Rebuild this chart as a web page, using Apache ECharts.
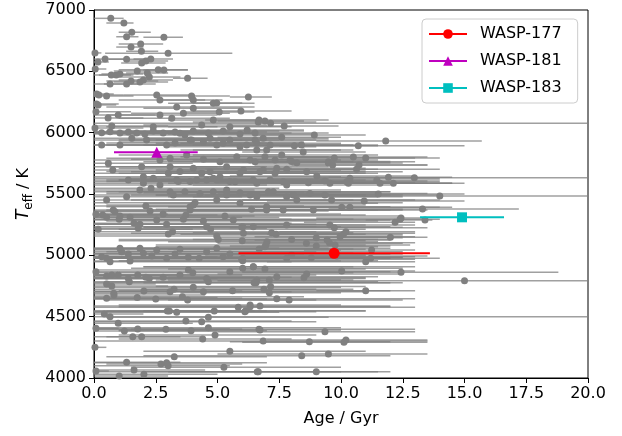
<!DOCTYPE html>
<html><head><meta charset="utf-8">
<script src="https://cdn.jsdelivr.net/npm/echarts@6/dist/echarts.min.js"></script>
<style>html,body{margin:0;padding:0;background:#fff}#c{width:622px;height:436px}</style>
</head><body><div id="c"></div>
<script>
// Sample stars: age (Gyr), Teff (K), age error bar ends (Gyr)
const ages=[
0.68,1.21,1.53,1.32,2.83,1.89,1.50,1.92,3.00,0.45,
0.16,0.04,1.32,1.93,2.10,2.30,2.60,2.83,1.75,3.79,
2.16,2.24,1.05,0.90,0.70,0.65,1.32,1.50,1.86,2.00,
0.11,0.51,0.20,6.25,5.95,6.68,0.17,2.54,2.67,3.95,
4.02,3.35,0.57,0.98,0.72,4.83,5.07,4.97,6.92,7.15,
7.70,6.20,8.92,11.81,10.70,7.60,8.40,8.47,9.73,10.50,
11.00,9.49,10.73,11.92,12.97,11.45,11.58,12.12,14.00,13.30,
13.40,12.43,12.43,15.00,12.19,12.39,7.80,9.55,9.73,10.20,
10.10,6.02,6.45,7.19,7.37,9.96,12.00,9.00,8.00,6.00,
7.00,6.96,8.60,9.44,9.53,9.76,9.00,6.69,6.92,11.24,
9.83,11.20,11.00,6.02,6.02,7.80,8.80,8.00,6.45,6.92,
10.03,8.61,8.50,7.40,6.59,6.48,7.10,7.15,6.88,7.10,
11.00,7.40,7.90,6.32,6.72,6.11,6.72,9.35,6.85,8.72,
10.20,10.12,8.41,9.49,6.61,9.00,0.42,0.65,0.98,0.08,
1.23,1.77,1.93,1.57,2.91,2.97,3.05,3.35,3.72,3.93,
4.36,4.40,4.63,4.63,4.90,4.87,0.04,3.25,1.32,1.62,
1.02,2.02,2.71,2.94,3.00,5.26,5.50,6.65,0.08,0.51,
0.72,0.51,0.81,0.80,1.75,2.02,2.50,3.08,3.24,3.58,
3.79,4.02,4.43,5.61,5.84,6.14,6.32,6.68,0.08,0.51,
0.72,0.98,1.39,1.43,1.77,2.10,2.24,2.80,3.48,3.82,
4.00,4.56,4.63,5.50,6.02,6.45,6.56,0.31,0.65,1.05,
1.39,1.73,2.06,2.40,2.80,3.28,3.68,4.02,4.63,5.23,
5.91,6.52,0.31,1.05,1.53,2.13,2.94,3.28,3.89,4.43,
4.97,5.50,6.18,0.58,0.76,1.39,2.00,2.00,1.93,2.67,
3.01,3.08,3.41,3.48,3.89,4.16,4.36,4.56,4.83,5.10,
5.50,5.91,6.45,1.86,2.31,2.67,3.21,3.68,4.29,4.83,
5.37,5.91,6.59,0.08,0.35,0.51,0.17,0.78,0.85,1.05,
1.02,1.46,1.62,1.79,1.86,2.10,2.27,2.54,2.80,2.94,
3.01,3.18,3.62,3.72,3.89,4.02,4.09,4.43,4.56,4.72,
4.97,5.03,5.30,5.64,5.98,6.05,6.38,0.31,0.51,0.65,
1.05,1.12,1.39,1.46,1.86,2.00,2.34,2.54,2.94,3.28,
3.48,3.82,4.26,4.56,4.97,5.23,5.50,5.98,0.51,1.32,
4.83,2.67,3.15,3.62,4.02,4.36,5.50,3.48,2.40,3.95,
4.70,5.23,5.91,6.59,6.99,3.08,3.75,4.43,5.10,5.78,
6.32,7.60,7.94,4.02,4.70,5.37,6.05,6.72,7.40,2.40,
3.35,4.97,5.71,7.13,7.80,3.08,5.37,6.32,7.26,8.07,
4.97,5.91,6.99,3.89,6.65,6.52,6.85,7.13,6.59,6.92,
6.52,6.85,7.33,7.80,8.61,9.49,8.11,7.33,8.00,8.21,
9.66,10.63,9.02,10.36,10.30,9.55,9.35,8.68,7.66,6.59,
11.51,10.94,10.03,10.36,8.88,7.66,6.99,7.80,8.21,8.74,
9.35,7.06,6.59,9.62,10.23,0.05,0.10,0.08,0.04];
const teffs=[
6932,6894,6818,6782,6777,6723,6698,6663,6647,6600,
6576,6650,6598,6568,6584,6600,6513,6511,6503,6443,
6486,6454,6478,6470,6470,6397,6397,6421,6413,6429,
6315,6299,6307,6291,6177,6103,6226,6307,6266,6299,
6266,6209,6120,6144,6054,6103,6169,6242,6095,6076,
6054,6022,5981,5932,5894,5962,5900,5842,5793,5801,
5793,5753,5736,5636,5633,5614,5587,5587,5484,5378,
5288,5304,4862,4793,5269,5294,5247,5247,5225,5193,
5171,5233,5233,5185,5171,5152,5147,5144,5130,5119,
5111,5084,5098,5125,5103,5084,5076,5052,5070,5044,
4995,4976,4948,4976,4956,4976,4981,5003,4907,4889,
4872,4848,4818,4826,4799,4777,4799,4745,4723,4695,
4712,4647,4636,4595,4587,4541,4391,4377,4302,4296,
4310,4291,4182,4196,4051,4051,4522,4500,4446,4405,
4383,4399,4337,4337,4397,4546,4546,4535,4465,4386,
4459,4318,4410,4495,4350,4546,4250,4174,4128,4065,
4016,4030,4114,4125,4100,4087,4218,4051,4057,4766,
4750,4650,4677,4690,4656,4709,4644,4704,4723,4663,
4636,4739,4704,4712,4576,4549,4581,4397,4866,4832,
4840,4840,4812,4785,4840,4821,4812,4821,4840,4880,
4859,4812,4785,4867,4894,4907,4777,6000,6008,5997,
6005,5997,5989,6014,5997,6005,5981,6014,5997,6014,
5989,5997,5899,5899,5954,5940,5899,5916,5940,5924,
5899,5940,5899,5750,5696,5614,5587,5641,5723,5777,
5669,5723,5601,5683,5601,5614,5669,5614,5628,5641,
5601,5669,5614,5533,5546,5573,5492,5519,5505,5519,
5492,5510,5492,5334,5329,5310,5212,5370,5356,5321,
5294,5310,5261,5220,5253,5402,5361,5288,5337,5253,
5174,5193,5294,5329,5370,5410,5429,5280,5233,5212,
5158,5130,5321,5288,5228,5180,5375,4989,4976,4948,
5057,5030,5011,4954,5057,5016,4995,5044,4976,5011,
5049,4984,4976,5030,5057,4989,5011,4968,5451,5478,
6239,6144,6117,6158,6199,6063,6049,5995,6049,5940,
5954,5913,5886,5913,5859,5791,5818,5783,5763,5804,
5777,5818,5777,5709,5682,5723,5696,5682,5709,5628,
5614,5614,5600,5614,5573,5519,5533,5492,5519,5492,
5451,5424,5396,5396,6087,5940,5954,5899,5859,5804,
5763,5696,5669,5701,5682,5763,5894,5777,5764,5755,
5736,5701,5647,5628,5587,5587,5606,5592,5600,5587,
5500,5443,5392,5392,5370,5370,5370,5478,5451,5505,
5492,5519,5478,5451,5600,6519,6234,6171,6038];
const ageLow=[
0.0,0.5,1.0,0.9,2.0,1.0,0.9,1.3,0.45,0.0,
0.0,0.0,0.6,1.1,1.4,1.6,1.0,2.0,0.8,3.2,
1.3,1.0,0.3,0.2,0.0,0.0,0.4,0.5,0.8,1.0,
0.0,0.0,0.0,5.5,4.0,4.5,0.0,1.2,1.0,2.5,
2.8,0.5,0.0,0.0,0.0,3.0,3.5,4.0,5.0,0.0,
5.5,4.0,6.5,9.0,7.5,5.0,5.5,6.0,7.0,7.5,
8.0,6.5,8.0,9.5,9.0,8.5,8.0,9.0,8.0,9.5,
11.0,9.0,6.0,5.0,8.5,9.0,4.5,6.0,5.5,7.5,
7.0,2.0,3.5,4.0,3.5,6.5,9.0,5.0,4.0,1.0,
3.0,2.5,5.0,6.5,6.0,7.0,5.5,3.0,2.5,8.5,
6.0,8.0,7.0,0.0,1.0,4.0,5.5,4.5,2.0,3.0,
6.0,5.0,4.5,3.0,2.5,0.0,3.0,2.5,2.0,3.5,
9.0,0.0,3.0,1.0,0.0,0.0,1.0,5.0,0.0,5.5,
7.0,6.0,2.0,5.0,3.0,0.0,0.0,0.0,0.0,0.0,
0.0,0.0,0.5,0.0,0.0,0.0,0.5,0.0,0.0,1.0,
0.0,1.0,0.0,0.5,1.0,0.0,0.0,0.5,0.0,0.0,
0.0,0.0,0.5,0.0,0.0,1.5,2.0,2.0,0.0,0.0,
0.0,0.0,0.0,0.0,0.0,0.0,0.0,0.0,0.0,0.0,
0.5,0.0,0.0,1.0,0.0,2.0,1.0,1.5,0.0,0.0,
0.0,0.0,0.0,0.0,0.0,0.0,0.0,0.0,0.0,0.0,
0.0,0.0,0.5,1.0,1.5,2.0,2.0,0.0,0.0,0.0,
0.0,0.0,0.0,0.5,0.5,1.0,1.0,1.5,2.0,2.5,
3.0,3.5,0.0,0.0,0.0,0.0,0.5,0.5,1.0,1.0,
2.0,2.5,3.0,0.0,0.0,0.0,0.0,0.0,0.0,0.0,
0.0,0.5,0.0,0.5,0.5,1.0,1.0,1.0,1.5,2.0,
2.0,2.5,3.0,0.0,0.0,0.0,0.0,0.5,0.5,1.0,
1.5,2.0,2.5,0.0,0.0,0.0,0.0,0.0,0.0,0.0,
0.0,0.0,0.0,0.0,0.0,0.0,0.0,0.0,0.0,0.0,
0.0,0.0,0.0,0.0,0.5,0.5,0.0,0.5,0.0,1.0,
0.0,1.0,1.0,1.5,2.0,1.5,2.5,0.0,0.0,0.0,
0.0,0.0,0.0,0.0,0.0,0.0,0.0,0.0,0.0,0.0,
0.0,0.0,0.0,0.5,1.0,0.5,1.0,1.5,0.0,0.0,
3.0,0.5,1.0,1.5,2.0,2.0,3.0,1.0,0.5,1.5,
2.0,2.5,3.0,3.5,4.0,0.5,1.0,1.5,2.0,2.5,
3.0,4.0,4.5,1.0,1.5,2.0,2.5,3.0,4.0,0.0,
0.5,1.5,2.0,3.5,4.0,0.0,2.0,2.5,3.5,4.5,
1.5,2.0,3.0,0.5,4.0,3.5,4.0,4.0,3.5,3.5,
3.0,3.5,4.0,4.5,5.0,6.0,5.0,4.0,4.5,5.0,
6.5,7.5,5.5,7.0,6.5,6.0,5.5,5.0,4.0,3.0,
8.0,7.0,6.5,7.0,5.0,4.0,3.0,4.0,4.5,5.0,
5.5,3.5,3.0,6.0,7.0,0.0,0.0,0.0,0.0];
const ageHigh=[
1.2,1.6,2.3,1.8,3.6,2.8,2.0,2.6,5.6,1.2,
0.6,0.3,2.0,2.9,3.0,3.2,3.8,3.8,2.7,4.6,
3.0,3.5,2.0,1.6,1.5,1.8,2.5,2.6,3.0,3.2,
0.8,1.6,1.2,7.2,8.0,9.5,0.9,4.0,4.5,5.5,
5.2,6.5,2.0,2.5,3.0,6.8,6.5,6.0,8.5,20,
9.9,8.5,11.0,15.7,15.0,10.0,11.5,11.0,13.0,13.5,
14.0,12.5,13.5,14.5,20,14.0,15.0,14.5,20,17.2,
13.7,13.5,18.8,20,13.0,14.0,11.0,13.0,13.5,13.0,
12.5,10.0,9.0,10.5,11.0,13.0,13.5,12.5,12.0,11.0,
11.5,11.0,12.5,12.0,13.0,12.8,12.0,10.5,11.5,13.0,
13.5,14.0,13.0,12.0,11.5,11.5,12.5,11.0,10.5,11.0,
13.0,12.5,11.0,11.5,10.0,12.0,10.5,11.0,10.5,10.0,
13.0,13.0,12.5,10.0,12.0,9.0,10.0,13.0,13.5,12.0,
13.5,13.5,12.0,13.5,10.0,12.0,2.0,20,4.0,1.0,
5.0,5.5,4.5,3.5,6.0,6.5,7.0,7.5,8.0,7.0,
9.0,8.0,10.0,9.5,9.0,11.0,0.5,7.0,3.5,4.5,
3.0,5.0,6.0,7.0,5.5,10.0,11.0,11.5,0.6,2.5,
3.0,6.0,4.5,3.0,5.0,6.0,7.0,8.0,9.0,8.5,
9.0,10.0,11.0,12.0,13.0,11.0,12.0,13.0,1.0,3.0,
3.5,4.0,5.0,4.5,6.0,6.5,7.0,8.0,9.0,10.0,
10.5,11.0,11.5,12.0,12.5,13.0,12.5,3.0,4.0,4.5,
5.0,5.5,6.0,5.5,6.5,7.0,7.5,7.5,8.0,8.5,
9.0,9.5,3.5,5.0,5.5,6.0,6.5,7.0,7.5,8.5,
8.5,9.0,10.0,4.0,4.5,5.5,6.0,6.5,5.0,6.5,
7.0,7.0,8.0,7.5,8.5,8.5,9.0,9.5,9.5,10.0,
10.5,11.0,11.0,6.5,7.5,7.0,8.0,8.5,9.5,10.0,
11.0,11.5,12.0,3.0,5.0,6.0,4.0,5.5,7.0,6.5,
8.0,7.5,8.0,7.0,9.0,8.5,9.5,9.0,10.0,9.5,
10.5,9.0,10.5,11.0,11.5,11.0,12.5,11.5,12.0,11.0,
12.5,11.5,12.5,12.0,12.5,13.0,12.5,5.0,6.5,8.0,
7.5,9.0,8.5,10.0,9.5,10.5,11.0,10.0,11.5,12.0,
11.0,12.5,12.0,12.5,12.0,13.0,12.5,13.0,4.5,6.0,
6.5,5.0,5.5,5.5,6.0,7.0,8.0,6.5,5.0,7.0,
7.5,8.5,9.0,10.0,10.5,7.0,7.5,8.0,9.0,9.5,
10.0,11.5,11.5,8.0,8.5,9.5,10.0,11.0,11.0,6.5,
7.5,9.5,10.5,11.5,12.0,8.0,10.0,11.0,12.0,12.5,
10.5,11.5,12.0,10.0,9.0,9.5,9.5,10.5,10.0,10.5,
10.5,11.0,11.5,11.5,12.5,13.0,11.5,11.0,12.0,12.0,
13.5,14.0,13.0,14.0,14.5,13.5,13.5,13.0,12.0,11.0,
15.0,15.0,14.0,14.5,13.5,12.5,12.0,12.5,13.0,13.5,
14.0,12.0,11.5,14.0,14.0,0.5,1.0,1.5,2.0];

// Highlighted planets' host stars
const waspNames=['WASP-177','WASP-181','WASP-183'];
const waspAge=[9.72,2.54,14.9];
const waspTeff=[5017,5840,5310];
const waspAgeLow=[5.85,0.81,13.2];
const waspAgeHigh=[13.6,4.2,16.6];

// Axis ticks
const xTicks=[0,2.5,5,7.5,10,12.5,15,17.5,20];
const yTicks=[4000,4500,5000,5500,6000,6500,7000];

const FONT='DejaVu Sans';
const chart=echarts.init(document.getElementById('c'),null,{renderer:'canvas'});
const errData=ages.map((a,i)=>[ageLow[i],ageHigh[i],teffs[i]]);
const ptData=ages.map((a,i)=>[a,teffs[i]]);
const wColors=['#ff0000','#bf00bf','#00bfbf'];
const wSymbols=['circle','triangle','rect'];
const wSizes=[11,11,10];

const series=[
 {type:'custom',silent:true,z:1,clip:true,encode:{x:[0,1],y:2},data:errData,
  renderItem:function(params,api){
    const p1=api.coord([api.value(0),api.value(2)]);
    const p2=api.coord([api.value(1),api.value(2)]);
    return {type:'line',shape:{x1:p1[0],y1:p1[1],x2:p2[0],y2:p2[1]},
      style:{stroke:'rgba(128,128,128,0.75)',lineWidth:1.5}};
  }},
 {type:'scatter',silent:true,z:2,data:ptData,symbolSize:7,itemStyle:{color:'#808080',opacity:1}}
];
waspNames.forEach((n,i)=>{
  series.push({name:n,type:'line',z:5,symbol:wSymbols[i],symbolSize:wSizes[i],showAllSymbol:true,
    lineStyle:{color:wColors[i],width:2},itemStyle:{color:wColors[i]},
    data:[{value:[waspAgeLow[i],waspTeff[i]],symbolSize:0},
          {value:[waspAge[i],waspTeff[i]]},
          {value:[waspAgeHigh[i],waspTeff[i]],symbolSize:0}]});
});

const axisCommon={
  axisLine:{show:true,lineStyle:{color:'#000',width:1}},
  axisTick:{show:true,inside:false,length:5,lineStyle:{color:'#000',width:1}},
  splitLine:{show:false},
};
chart.setOption({
  animation:false,
  backgroundColor:'#fff',
  grid:{left:94,right:34,top:10,bottom:58,show:true,borderColor:'#000',borderWidth:1,backgroundColor:'transparent',outerBoundsMode:'none'},
  legend:{orient:'vertical',left:422,top:19,itemWidth:38,itemHeight:12,itemGap:9,
    padding:[6,16,6,6],borderColor:'#cccccc',borderWidth:1,borderRadius:4,backgroundColor:'rgba(255,255,255,0.85)',
    textStyle:{fontSize:16,fontFamily:FONT,color:'#000',lineHeight:18,padding:[0,0,0,8]},
    data:waspNames},
  xAxis:Object.assign({type:'value',min:xTicks[0],max:xTicks[xTicks.length-1],interval:2.5,
    axisLabel:{color:'#000',fontSize:16,fontFamily:FONT,margin:8,showMaxLabel:true,showMinLabel:true,formatter:v=>v.toFixed(1)},
    name:'Age / Gyr',nameLocation:'middle',nameGap:33,nameTextStyle:{color:'#000',fontSize:16,fontFamily:FONT}},axisCommon),
  yAxis:Object.assign({type:'value',min:yTicks[0],max:yTicks[yTicks.length-1],interval:500,
    axisLabel:{color:'#000',fontSize:16,fontFamily:FONT,margin:8,formatter:v=>String(v)},
    name:'{it|T}{sub|eff}{n| / K}',nameLocation:'middle',nameGap:56,nameRotate:90,
    nameTextStyle:{color:'#000',fontSize:16,fontFamily:FONT,
      rich:{it:{fontSize:17,fontStyle:'italic',fontFamily:FONT,color:'#000',lineHeight:22,verticalAlign:'middle'},
            sub:{fontSize:12,fontFamily:FONT,color:'#000',lineHeight:22,verticalAlign:'bottom'},
            n:{fontSize:16,fontFamily:FONT,color:'#000',lineHeight:22,verticalAlign:'middle'}}}},axisCommon),
  series:series
});
</script></body></html>
